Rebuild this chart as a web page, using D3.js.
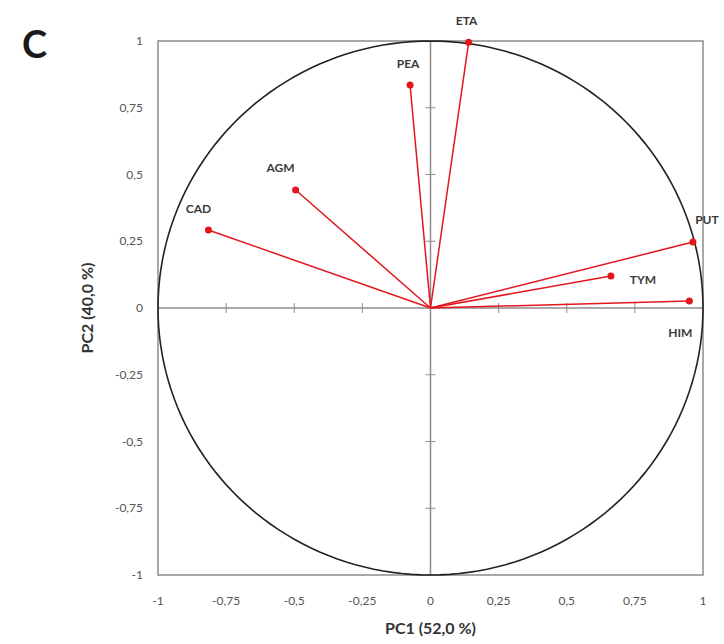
<!DOCTYPE html>
<html>
<head>
<meta charset="utf-8">
<script src="https://cdn.jsdelivr.net/npm/d3@7"></script>
<style>
  body { margin: 0; background: #fff; }
  svg { font-family: Lato, "Open Sans", sans-serif; }
</style>
</head>
<body>
<div id="chart"></div>
<script>
(function () {
    'use strict';

    // loadings
    var variables = ['ETA', 'PEA', 'AGM', 'CAD', 'PUT', 'TYM', 'HIM'];
    var pc1 = [0.14, -0.075, -0.495, -0.815, 0.963, 0.662, 0.95];
    var pc2 = [0.995, 0.835, 0.442, 0.292, 0.247, 0.12, 0.026];
    var tickValues = [-1, -0.75, -0.5, -0.25, 0, 0.25, 0.5, 0.75, 1];

    var width = 724, height = 644;
    var x = d3.scaleLinear().domain([-1, 1]).range([158, 703]);
    var y = d3.scaleLinear().domain([-1, 1]).range([575, 41]);
    var fmt = function (d) { return String(d).replace('.', ','); };

    var svg = d3.select('#chart').append('svg')
        .attr('width', width)
        .attr('height', height);

    // panel letter
    svg.append('text')
        .attr('x', 22).attr('y', 58)
        .attr('font-size', 38).attr('font-weight', 'bold')
        .attr('fill', '#1a1a1a')
        .text('C');

    // plot frame
    svg.append('rect')
        .attr('x', x(-1)).attr('y', y(1))
        .attr('width', x(1) - x(-1)).attr('height', y(-1) - y(1))
        .attr('fill', 'none').attr('stroke', '#8c8c8c').attr('stroke-width', 1.5);

    // axes through origin
    svg.append('line')
        .attr('x1', x(-1)).attr('x2', x(1)).attr('y1', y(0)).attr('y2', y(0))
        .attr('stroke', '#8c8c8c').attr('stroke-width', 1.5);
    svg.append('line')
        .attr('x1', x(0)).attr('x2', x(0)).attr('y1', y(1)).attr('y2', y(-1))
        .attr('stroke', '#8c8c8c').attr('stroke-width', 1.5);

    // tick crosses on the central axes
    var inner = tickValues.filter(function (d) { return d !== 0 && Math.abs(d) !== 1; });
    svg.selectAll('.xt').data(inner).enter().append('line')
        .attr('x1', function (d) { return x(d); }).attr('x2', function (d) { return x(d); })
        .attr('y1', y(0) - 5).attr('y2', y(0) + 5)
        .attr('stroke', '#8c8c8c').attr('stroke-width', 1);
    svg.selectAll('.yt').data(inner).enter().append('line')
        .attr('y1', function (d) { return y(d); }).attr('y2', function (d) { return y(d); })
        .attr('x1', x(0) - 5).attr('x2', x(0) + 5)
        .attr('stroke', '#8c8c8c').attr('stroke-width', 1);

    // tick labels
    svg.selectAll('.xl').data(tickValues).enter().append('text')
        .attr('x', function (d) { return x(d); })
        .attr('y', 605)
        .attr('text-anchor', 'middle')
        .attr('font-size', 12).attr('fill', '#555')
        .text(fmt);
    svg.selectAll('.yl').data(tickValues).enter().append('text')
        .attr('x', 143)
        .attr('y', function (d) { return y(d) + 4; })
        .attr('text-anchor', 'end')
        .attr('font-size', 12).attr('fill', '#555')
        .text(fmt);

    // axis titles
    svg.append('text')
        .attr('x', x(0)).attr('y', 634)
        .attr('text-anchor', 'middle')
        .attr('font-size', 16).attr('font-weight', 'bold').attr('fill', '#333')
        .text('PC1 (52,0 %)');
    svg.append('text')
        .attr('transform', 'translate(93,' + y(0) + ') rotate(-90)')
        .attr('text-anchor', 'middle')
        .attr('font-size', 16).attr('font-weight', 'bold').attr('fill', '#333')
        .text('PC2 (40,0 %)');

    // correlation circle
    var circle = d3.range(0, 361, 2).map(function (a) {
        var r = a * Math.PI / 180;
        return [x(Math.cos(r)), y(Math.sin(r))];
    });
    svg.append('path')
        .attr('d', d3.line()(circle) + 'Z')
        .attr('fill', 'none').attr('stroke', '#222').attr('stroke-width', 1.6);

    var data = variables.map(function (v, i) { return { name: v, x: pc1[i], y: pc2[i] }; });

    svg.selectAll('.vec').data(data).enter().append('line')
        .attr('x1', x(0)).attr('y1', y(0))
        .attr('x2', function (d) { return x(d.x); })
        .attr('y2', function (d) { return y(d.y); })
        .attr('stroke', '#e3161c').attr('stroke-width', 1.5);

    svg.selectAll('.pt').data(data).enter().append('circle')
        .attr('cx', function (d) { return x(d.x); })
        .attr('cy', function (d) { return y(d.y); })
        .attr('r', 3.5)
        .attr('fill', '#e3161c');

    // label offsets (dx, dy) per variable
    var offsets = {
        ETA: [-2, -17], PEA: [-2, -17], AGM: [-15, -18], CAD: [-10, -17],
        PUT: [14, -18], TYM: [32, 8], HIM: [-9, 36]
    };
    svg.selectAll('.lab').data(data).enter().append('text')
        .attr('x', function (d) { return x(d.x) + offsets[d.name][0]; })
        .attr('y', function (d) { return y(d.y) + offsets[d.name][1]; })
        .attr('text-anchor', 'middle')
        .attr('font-size', 12).attr('font-weight', 'bold').attr('fill', '#3a3a3a')
        .text(function (d) { return d.name; });
})();
</script>
</body>
</html>
